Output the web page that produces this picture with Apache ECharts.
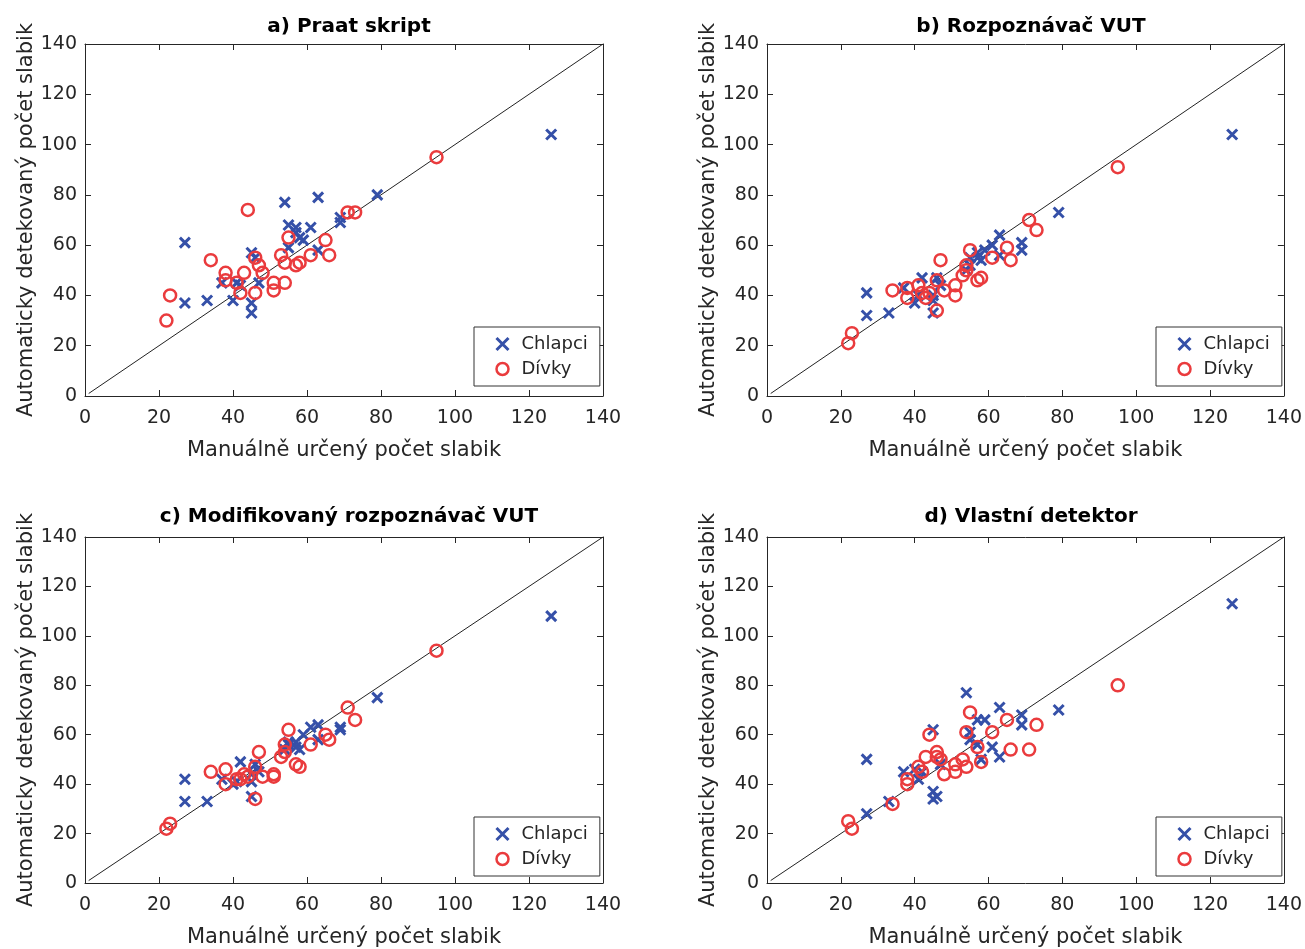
<!DOCTYPE html>
<html>
<head>
<meta charset="utf-8">
<script src="https://cdn.jsdelivr.net/npm/echarts@6/dist/echarts.min.js"></script>
<style>
html, body { margin: 0; padding: 0; background: #fff; }
#chart { width: 1305px; height: 949px; }
</style>
</head>
<body>
<div id="chart"></div>
<script>
// osa: 0 - 140, krok 20
var axisMin = 0;
var axisMax = 140;
var axisStep = 20;

var panelTitles = ['a) Praat skript', 'b) Rozpoznávač VUT', 'c) Modifikovaný rozpoznávač VUT', 'd) Vlastní detektor'];
var seriesNames = ['Chlapci', 'Dívky'];
var xName = 'Manuálně určený počet slabik';
var yName = 'Automaticky detekovaný počet slabik';

// chlapci - manualne urceny pocet
var boysManual = [27, 27, 33, 37, 40, 41, 42, 45, 45, 45, 46, 47, 54, 55, 55, 57, 57, 58, 59, 61, 63, 63, 69, 69, 79, 126];
var boysPraat  = [61, 37, 38, 45, 38, 45, 44, 33, 37, 57, 55, 45, 77, 68, 59, 67, 65, 63, 62, 67, 79, 58, 69, 71, 80, 104];
var boysVut    = [41, 32, 33, 43, 37, 40, 47, 33, 38, 40, 47, 44, 50, 52, 55, 55, 57, 54, 58, 60, 64, 56, 61, 58, 73, 104];
var boysModVut = [42, 33, 33, 42, 40, 41, 49, 35, 41, 44, 48, 45, 54, 56, 57, 55, 57, 54, 60, 63, 64, 58, 63, 62, 75, 108];
var boysOwn    = [50, 28, 33, 45, 46, 42, 45, 34, 37, 62, 35, 48, 77, 61, 58, 66, 56, 50, 66, 55, 71, 51, 68, 64, 70, 113];

// divky - manualne urceny pocet
var girlsManual = [22, 23, 34, 38, 38, 41, 42, 43, 44, 46, 46, 47, 48, 51, 51, 53, 54, 54, 55, 57, 58, 61, 65, 66, 71, 73, 95];
var girlsPraat  = [30, 40, 54, 49, 46, 45, 41, 49, 74, 55, 41, 52, 49, 45, 42, 56, 45, 53, 63, 52, 53, 56, 62, 56, 73, 73, 95];
var girlsVut    = [21, 25, 42, 39, 43, 44, 41, 39, 41, 46, 34, 54, 42, 44, 40, 48, 50, 52, 58, 46, 47, 55, 59, 54, 70, 66, 91];
var girlsModVut = [22, 24, 45, 46, 40, 42, 42, 44, 43, 47, 34, 53, 43, 44, 43, 51, 53, 56, 62, 48, 47, 56, 60, 58, 71, 66, 94];
var girlsOwn    = [25, 22, 32, 42, 40, 47, 45, 51, 60, 53, 51, 50, 44, 45, 48, 50, 47, 61, 69, 55, 49, 61, 66, 54, 54, 64, 80];

// diagonala y = x
var diagX = [1, 140];

var boysDetected = [boysPraat, boysVut, boysModVut, boysOwn];
var girlsDetected = [girlsPraat, girlsVut, girlsModVut, girlsOwn];

var BLUE = '#3550a8';
var RED = '#ea3b3d';
var AXIS = '#262626';
var FONT = 'DejaVu Sans';
var CROSS = 'path://M0,0L10,10M0,10L10,0';

// pozice grafu: [left, top, top nadpisu, top legendy]
var gridPos = [[85, 44, 12, 327], [767, 44, 12, 327], [85, 537, 502, 817], [767, 537, 502, 817]];
var GRID_W = 518;
var GRID_H = 352;

function pairs(xs, ys) {
	var out = [];
	for (var i = 0; i < xs.length; i++) {
		out.push([xs[i], ys[i]]);
	}
	return out;
}

function makeAxis(gridIndex, position, main) {
	return {
		type: 'value',
		gridIndex: gridIndex,
		position: position,
		min: axisMin,
		max: axisMax,
		interval: axisStep,
		name: main ? (position === 'bottom' ? xName : yName) : '',
		nameLocation: 'middle',
		nameGap: 44,
		nameTextStyle: {
			fontFamily: FONT,
			fontSize: 21,
			color: AXIS
		},
		axisLine: { show: true, onZero: false, lineStyle: { color: AXIS, width: 1 } },
		axisTick: { show: true, inside: true, length: 6, lineStyle: { color: AXIS } },
		axisLabel: {
			show: main,
			fontFamily: FONT,
			fontSize: 19,
			color: AXIS,
			margin: position === 'bottom' ? 13 : 8
		},
		splitLine: { show: false }
	};
}

function buildOption() {
	var grids = [], xAxes = [], yAxes = [], titles = [], legends = [], seriesList = [];

	for (var p = 0; p < 4; p++) {
		var gLeft = gridPos[p][0];
		var gTop = gridPos[p][1];
		grids.push({ left: gLeft, top: gTop, width: GRID_W, height: GRID_H });

		xAxes.push(makeAxis(p, 'bottom', true));
		xAxes.push(makeAxis(p, 'top', false));
		yAxes.push(makeAxis(p, 'left', true));
		yAxes.push(makeAxis(p, 'right', false));

		titles.push({
			text: panelTitles[p],
			left: gLeft + GRID_W / 2,
			top: gridPos[p][2],
			textAlign: 'center',
			textStyle: { fontFamily: FONT, fontSize: 20, fontWeight: 'bold', color: '#000' }
		});

		legends.push({
			data: [
				{ name: seriesNames[0], itemStyle: { borderWidth: 3 } },
				{ name: seriesNames[1], itemStyle: { borderWidth: 2.5 } }
			],
			orient: 'vertical',
			left: gLeft + 389,
			top: gridPos[p][3],
			padding: [8, 12, 8, 21],
			itemGap: 7,
			itemWidth: 12,
			itemHeight: 12,
			borderColor: '#333',
			borderWidth: 1,
			backgroundColor: '#fff',
			textStyle: { fontFamily: FONT, fontSize: 18, color: AXIS, lineHeight: 18, padding: [0, 0, 0, 8] }
		});

		seriesList.push({
			type: 'line',
			xAxisIndex: p * 2,
			yAxisIndex: p * 2,
			data: pairs(diagX, diagX),
			showSymbol: false,
			silent: true,
			z: 1,
			lineStyle: { color: '#222', width: 1 }
		});
		seriesList.push({
			name: seriesNames[0],
			type: 'scatter',
			xAxisIndex: p * 2,
			yAxisIndex: p * 2,
			data: pairs(boysManual, boysDetected[p]),
			symbol: CROSS,
			symbolSize: 10,
			z: 3,
			itemStyle: { color: 'transparent', borderColor: BLUE, borderWidth: 3, opacity: 1 }
		});
		seriesList.push({
			name: seriesNames[1],
			type: 'scatter',
			xAxisIndex: p * 2,
			yAxisIndex: p * 2,
			data: pairs(girlsManual, girlsDetected[p]),
			symbol: 'circle',
			symbolSize: 12,
			z: 4,
			itemStyle: { color: 'transparent', borderColor: RED, borderWidth: 2.5, opacity: 1 }
		});
	}

	return {
		animation: false,
		backgroundColor: '#fff',
		title: titles,
		legend: legends,
		grid: grids,
		xAxis: xAxes,
		yAxis: yAxes,
		series: seriesList
	};
}

var chart = echarts.init(document.getElementById('chart'));
chart.setOption(buildOption());
</script>
</body>
</html>
